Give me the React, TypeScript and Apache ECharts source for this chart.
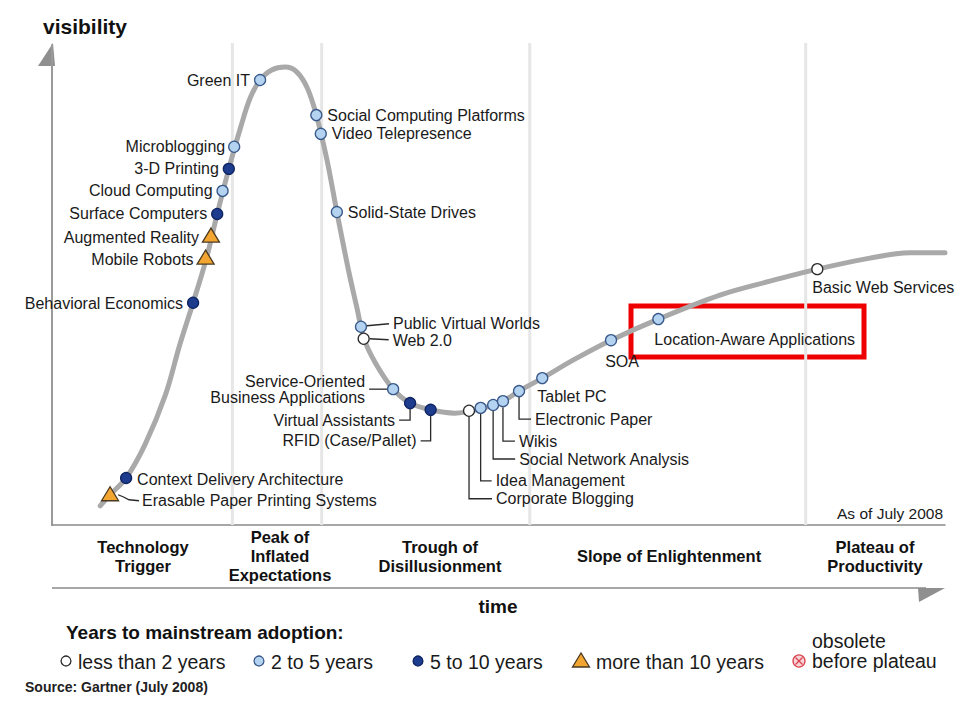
import React, { useEffect, useRef } from 'react';
import * as echarts from 'echarts';

// Hype curve (time 0-100, visibility 0-100)
const curveX = [5.4, 6.5, 8.3, 10.4, 12.7, 14.3, 15.8, 17.3, 18.5, 19.8, 21.1, 22.2, 23.3, 24.6, 26.1, 27.4, 28.6, 29.6, 30.8, 31.9, 33.2, 34.2, 34.9, 36.2, 38.2, 40.1, 42.4, 45.1, 48.0, 50.5, 52.3, 54.9, 58.6, 62.6, 67.9, 74.8, 80.4, 85.7, 91.6, 96.1, 100];
const curveY = [4.0, 6.3, 9.8, 16.7, 27.1, 37.5, 46.3, 55.6, 64.8, 74.2, 82.7, 89.0, 92.7, 94.8, 95.4, 94.4, 91.0, 85.4, 76.0, 65.2, 53.1, 44.8, 39.0, 33.8, 28.3, 25.4, 24.0, 23.3, 24.2, 25.8, 27.9, 30.6, 34.6, 38.5, 42.9, 47.9, 50.8, 53.3, 55.6, 56.7, 56.7];

// Technologies on the curve
const itemNames = [
  'Erasable Paper Printing Systems', 'Context Delivery Architecture', 'Behavioral Economics', 'Mobile Robots',
  'Augmented Reality', 'Surface Computers', 'Cloud Computing', '3-D Printing', 'Microblogging', 'Green IT',
  'Social Computing Platforms', 'Video Telepresence', 'Solid-State Drives', 'Public Virtual Worlds', 'Web 2.0',
  'Service-Oriented Business Applications', 'Virtual Assistants', 'RFID (Case/Pallet)', 'Corporate Blogging',
  'Idea Management', 'Social Network Analysis', 'Wikis', 'Electronic Paper', 'Tablet PC', 'SOA',
  'Location-Aware Applications', 'Basic Web Services'
];
const itemX = [6.5, 8.3, 15.8, 17.2, 17.8, 18.5, 19.1, 19.8, 20.4, 23.3, 29.6, 30.1, 31.9, 34.6, 34.9, 38.2, 40.1, 42.4, 46.7, 48.0, 49.4, 50.5, 52.3, 54.9, 62.6, 67.9, 85.7];
const itemY = [6.3, 9.8, 46.3, 55.6, 60.2, 64.8, 69.6, 74.2, 78.8, 92.7, 85.4, 81.5, 65.2, 41.3, 38.8, 28.3, 25.4, 24.0, 23.8, 24.4, 25.0, 25.8, 27.9, 30.6, 38.5, 42.9, 53.3];
// 0 = less than 2 years, 1 = 2 to 5 years, 2 = 5 to 10 years, 3 = more than 10 years
const itemCategory = [3, 2, 2, 3, 3, 2, 1, 2, 1, 1, 1, 1, 1, 1, 0, 1, 2, 2, 0, 1, 1, 1, 1, 1, 1, 1, 0];

const categoryNames = ['less than 2 years', '2 to 5 years', '5 to 10 years', 'more than 10 years'];
const phaseBounds = [20.2, 30.2, 53.5, 84.4];
const phaseNames = ['Technology\nTrigger', 'Peak of\nInflated\nExpectations', 'Trough of\nDisillusionment', 'Slope of Enlightenment', 'Plateau of\nProductivity'];

// label layout (styles, pixel offsets from each marker)
type Lay = { dx: number; dy: number; align: 'left' | 'right' | 'center'; text?: string; leader?: number[][] };
const labelLayout: Record<string, Lay> = {
  'Erasable Paper Printing Systems': { dx: 32, dy: 6, align: 'left', leader: [[8, 0], [13, 2], [19, 5], [29, 6]] },
  'Context Delivery Architecture': { dx: 11, dy: 2, align: 'left' },
  'Behavioral Economics': { dx: -10, dy: 1, align: 'right' },
  'Mobile Robots': { dx: -12, dy: 1, align: 'right' },
  'Augmented Reality': { dx: -12, dy: 1, align: 'right' },
  'Surface Computers': { dx: -10, dy: 0, align: 'right' },
  'Cloud Computing': { dx: -10, dy: 0, align: 'right' },
  '3-D Printing': { dx: -10, dy: 0, align: 'right' },
  'Microblogging': { dx: -9, dy: 0, align: 'right' },
  'Green IT': { dx: -10, dy: 0, align: 'right' },
  'Social Computing Platforms': { dx: 11, dy: 0, align: 'left' },
  'Video Telepresence': { dx: 11, dy: 0, align: 'left' },
  'Solid-State Drives': { dx: 11, dy: 0, align: 'left' },
  'Public Virtual Worlds': { dx: 32, dy: -3, align: 'left', leader: [[6, -1], [28, -3]] },
  'Web 2.0': { dx: 29, dy: 2, align: 'left', leader: [[6, 0], [25, 1]] },
  'Service-Oriented Business Applications': { dx: -28, dy: 0, align: 'right', text: 'Service-Oriented\nBusiness Applications', leader: [[-6, 0], [-24, 0]] },
  'Virtual Assistants': { dx: -15, dy: 17, align: 'right', leader: [[0, 6], [0, 17], [-11, 17]] },
  'RFID (Case/Pallet)': { dx: -14, dy: 31, align: 'right', leader: [[0, 6], [0, 31], [-10, 31]] },
  'Corporate Blogging': { dx: 27, dy: 88, align: 'left', leader: [[0, 6], [0, 88], [23, 88]] },
  'Idea Management': { dx: 15, dy: 73, align: 'left', leader: [[0, 6], [0, 73], [11, 73]] },
  'Social Network Analysis': { dx: 26, dy: 54, align: 'left', leader: [[0, 6], [0, 54], [22, 54]] },
  'Wikis': { dx: 16, dy: 40, align: 'left', leader: [[0, 6], [0, 40], [12, 40]] },
  'Electronic Paper': { dx: 16, dy: 28, align: 'left', leader: [[0, 6], [0, 28], [12, 28]] },
  'Tablet PC': { dx: -5, dy: 18, align: 'left' },
  'SOA': { dx: 11, dy: 21, align: 'center' },
  'Location-Aware Applications': { dx: -4, dy: 20, align: 'left' },
  'Basic Web Services': { dx: -5, dy: 18, align: 'left' }
};

const catFill = ['#ffffff', '#b4d3f1', '#1d3c8e', '#f2a531'];
const catStroke = ['#2b2b2b', '#39598a', '#0f2463', '#4a3a22'];
const FONT = '"Liberation Sans", Arial, sans-serif';

function marker(cat: number, cx: number, cy: number, s = 1) {
  if (cat === 3) {
    return {
      type: 'polygon',
      shape: { points: [[cx, cy - 8 * s], [cx - 8.5 * s, cy + 6 * s], [cx + 8.5 * s, cy + 6 * s]] },
      style: { fill: catFill[3], stroke: catStroke[3], lineWidth: 1.3 }
    };
  }
  return {
    type: 'circle',
    shape: { cx, cy, r: 5.5 * s },
    style: { fill: catFill[cat], stroke: catStroke[cat], lineWidth: 1.3 }
  };
}

export default function App() {
  const ref = useRef<HTMLDivElement>(null);
  useEffect(() => {
    if (!ref.current) return;
    const chart = echarts.init(ref.current, null, { renderer: 'svg' });

    const phaseCenters = [143, 280, 440, 669, 875];
    const legendX = [66, 259, 418, 581];
    const graphic: any[] = [
      { type: 'text', left: 43, top: 16, style: { text: 'visibility', font: `bold 21px ${FONT}`, fill: '#111' } },
      { type: 'polygon', shape: { points: [[53, 43], [38, 66], [55, 66]] }, style: { fill: '#8f8f8f' } },
      { type: 'line', shape: { x1: 52, y1: 588, x2: 926, y2: 588 }, style: { stroke: '#8a8a8a', lineWidth: 1.5 } },
      { type: 'polygon', shape: { points: [[918, 588], [945, 588], [919, 602]] }, style: { fill: '#8f8f8f' } },
      { type: 'text', x: 943, y: 513, style: { text: 'As of July 2008', font: `15.5px ${FONT}`, fill: '#1a1a1a', align: 'right', verticalAlign: 'middle' } },
      { type: 'text', x: 498, y: 606, style: { text: 'time', font: `bold 19px ${FONT}`, fill: '#111', align: 'center', verticalAlign: 'middle' } },
      { type: 'rect', shape: { x: 631, y: 306, width: 233, height: 51 }, style: { fill: 'none', stroke: '#ee0000', lineWidth: 5 } },
      { type: 'text', x: 66, y: 632, style: { text: 'Years to mainstream adoption:', font: `bold 19px ${FONT}`, fill: '#111', verticalAlign: 'middle' } },
      { type: 'text', x: 25, y: 687, style: { text: 'Source: Gartner (July 2008)', font: `bold 14px ${FONT}`, fill: '#222', verticalAlign: 'middle' } }
    ];
    phaseNames.forEach((t, i) => {
      graphic.push({ type: 'text', x: phaseCenters[i], y: 556, style: { text: t, font: `bold 16.5px ${FONT}`, fill: '#111', align: 'center', verticalAlign: 'middle', lineHeight: 19 } });
    });
    categoryNames.forEach((t, i) => {
      const m: any = marker(i, legendX[i], 661, i === 3 ? 1 : 0.9);
      graphic.push(m);
      graphic.push({ type: 'text', x: legendX[i] + (i === 3 ? 15 : 12), y: 662, style: { text: t, font: `19.5px ${FONT}`, fill: '#1a1a1a', verticalAlign: 'middle' } });
    });
    graphic.push({ type: 'circle', shape: { cx: 799, cy: 661, r: 6 }, style: { fill: '#f7d4d6', stroke: '#d9434f', lineWidth: 1.3 } });
    graphic.push({ type: 'line', shape: { x1: 795.5, y1: 657.5, x2: 802.5, y2: 664.5 }, style: { stroke: '#d9434f', lineWidth: 1.3 } });
    graphic.push({ type: 'line', shape: { x1: 802.5, y1: 657.5, x2: 795.5, y2: 664.5 }, style: { stroke: '#d9434f', lineWidth: 1.3 } });
    graphic.push({ type: 'text', x: 812, y: 651, style: { text: 'obsolete\nbefore plateau', font: `19.5px ${FONT}`, fill: '#1a1a1a', verticalAlign: 'middle', lineHeight: 20 } });

    const option: any = {
      animation: false,
      backgroundColor: '#ffffff',
      grid: { left: 52, top: 45, width: 893, height: 480 },
      xAxis: {
        type: 'value', min: 0, max: 100,
        axisLine: { show: true, lineStyle: { color: '#8a8a8a', width: 1.5 } },
        axisTick: { show: false }, axisLabel: { show: false }, splitLine: { show: false }
      },
      yAxis: {
        type: 'value', min: 0, max: 100,
        axisLine: { show: true, lineStyle: { color: '#9a9a9a', width: 2 } },
        axisTick: { show: false }, axisLabel: { show: false }, splitLine: { show: false }
      },
      graphic,
      series: [
        {
          type: 'custom',
          z: 1,
          data: phaseBounds.map((v) => [v, 0]),
          renderItem: (params: any, api: any) => {
            const a = api.coord([api.value(0), 0]);
            const b = api.coord([api.value(0), 100]);
            return { type: 'line', shape: { x1: a[0], y1: a[1], x2: b[0], y2: b[1] - 2 }, style: { stroke: '#e6e6e6', lineWidth: 3 } };
          }
        },
        {
          type: 'line',
          z: 2,
          smooth: 0.35,
          symbol: 'none',
          data: curveX.map((x, i) => [x, curveY[i]]),
          lineStyle: { color: '#a9a9a9', width: 5, cap: 'round' }
        },
        {
          type: 'custom',
          z: 3,
          data: itemX.map((x, i) => [x, itemY[i]]),
          renderItem: (params: any, api: any) => {
            const i = params.dataIndex;
            const p = api.coord([api.value(0), api.value(1)]);
            const name = itemNames[i];
            const lay = labelLayout[name];
            const children: any[] = [];
            if (lay.leader) {
              children.push({
                type: 'polyline',
                shape: { points: lay.leader.map(([dx, dy]) => [p[0] + dx, p[1] + dy]) },
                style: { stroke: '#2a2a2a', lineWidth: 1.3, fill: null }
              });
            }
            children.push(marker(itemCategory[i], p[0], p[1]));
            children.push({
              type: 'text', x: p[0] + lay.dx, y: p[1] + lay.dy,
              style: { text: lay.text || name, font: `16px ${FONT}`, fill: '#1a1a1a', align: lay.align, verticalAlign: 'middle', lineHeight: 16 }
            });
            return { type: 'group', children };
          }
        }
      ]
    };
    chart.setOption(option);
    return () => chart.dispose();
  }, []);
  return <div ref={ref} style={{ position: 'absolute', left: 0, top: 0, width: 970, height: 710, background: '#fff' }} />;
}
